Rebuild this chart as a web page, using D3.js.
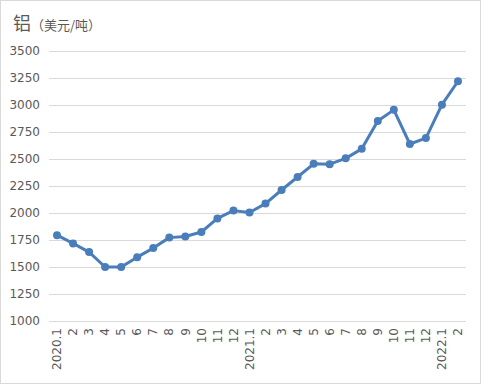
<!DOCTYPE html>
<html>
<head>
<meta charset="utf-8">
<script src="https://d3js.org/d3.v7.min.js"></script>
<style>
  body { margin: 0; background: #fff; }
  svg { font-family: "DejaVu Sans", sans-serif; }
</style>
</head>
<body>
<svg width="482" height="386"></svg>
<script>
const months = ["2020.1","2","3","4","5","6","7","8","9","10","11","12",
                "2021.1","2","3","4","5","6","7","8","9","10","11","12",
                "2022.1","2"];
const prices = [1795, 1718, 1638, 1500, 1500, 1591, 1675, 1772, 1782, 1824, 1950, 2022,
                2005, 2087, 2213, 2333, 2455, 2452, 2506, 2594, 2852, 2955, 2639, 2694,
                3003, 3220];
const yTicks = [1000, 1250, 1500, 1750, 2000, 2250, 2500, 2750, 3000, 3250, 3500];

const svg = d3.select("svg");
const plotLeft = 49, plotRight = 466, plotTop = 51, plotBottom = 321;

svg.append("rect")
  .attr("x", 0.5).attr("y", 0.5)
  .attr("width", 480).attr("height", 383)
  .attr("fill", "#fff").attr("stroke", "#d9d9d9");

const x = d3.scaleBand()
  .domain(months.map((m, i) => i))
  .range([plotLeft, plotRight]);

const y = d3.scaleLinear()
  .domain([1000, 3500])
  .range([plotBottom, plotTop]);

// gridlines
svg.append("g")
  .selectAll("line")
  .data(yTicks)
  .join("line")
  .attr("x1", plotLeft).attr("x2", plotRight)
  .attr("y1", d => Math.round(y(d)) + 0.5)
  .attr("y2", d => Math.round(y(d)) + 0.5)
  .attr("stroke", "#d9d9d9");

// y labels
svg.append("g")
  .selectAll("text")
  .data(yTicks)
  .join("text")
  .attr("x", 40)
  .attr("y", d => y(d))
  .attr("dy", "0.35em")
  .attr("text-anchor", "end")
  .attr("font-size", 12)
  .attr("fill", "#595959")
  .text(d => d);

// x labels
svg.append("g")
  .selectAll("text")
  .data(months)
  .join("text")
  .attr("transform", (d, i) => `translate(${x(i) + x.bandwidth() / 2},328) rotate(-90)`)
  .attr("dy", "0.35em")
  .attr("text-anchor", "end")
  .attr("font-size", 12)
  .attr("fill", "#595959")
  .text(d => d);

const line = d3.line()
  .x((d, i) => x(i) + x.bandwidth() / 2)
  .y(d => y(d));

svg.append("path")
  .datum(prices)
  .attr("d", line)
  .attr("fill", "none")
  .attr("stroke", "#4a7ebb")
  .attr("stroke-width", 3)
  .attr("stroke-linejoin", "round");

svg.append("g")
  .selectAll("circle")
  .data(prices)
  .join("circle")
  .attr("cx", (d, i) => x(i) + x.bandwidth() / 2)
  .attr("cy", d => y(d))
  .attr("r", 4)
  .attr("fill", "#4a7ebb");

// title
const title = svg.append("text")
  .attr("x", 13)
  .attr("y", 30)
  .attr("fill", "#595959")
  .attr("font-family", "'Noto Sans CJK SC', sans-serif");
title.append("tspan").attr("font-size", 18).text("铝");
title.append("tspan").attr("font-size", 13).text("（美元/吨）");
</script>
</body>
</html>
